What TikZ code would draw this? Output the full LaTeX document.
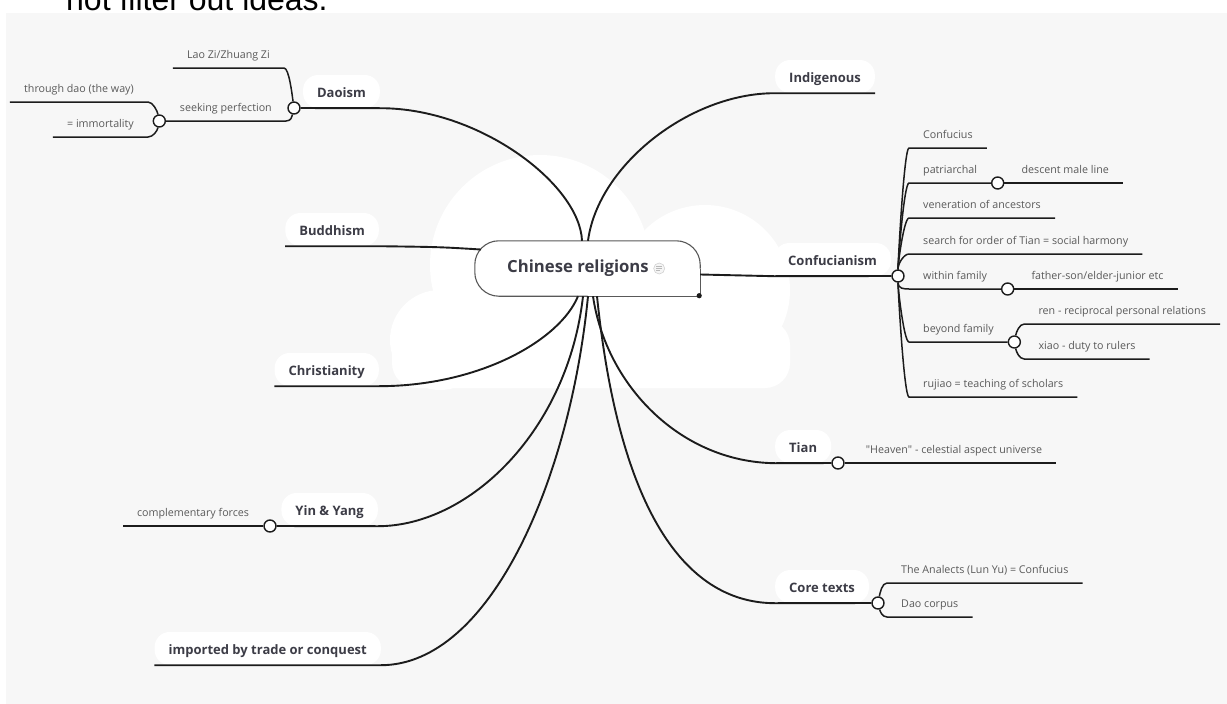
\documentclass[tikz,border=0pt]{standalone}
\usepackage{fontspec}
\setmainfont{Open Sans}
\newfontfamily\plainsans{Open Sans}
\newfontfamily\slidefont{Liberation Sans}
\usetikzlibrary{positioning,calc}

\definecolor{paper}{HTML}{F7F7F7}
\definecolor{ink}{HTML}{1C1C1C}
\definecolor{topicgray}{HTML}{3C3C46}
\definecolor{leafgray}{HTML}{5A5A5A}

\tikzset{
  root/.style={fill=white, rounded corners=24pt, minimum width=225pt, minimum height=55pt,
    text=topicgray, font=\fontsize{16.7}{19}\selectfont\bfseries},
  rootline/.style={draw=gray!70!black, line width=1.1pt},
  topic/.style={fill=white, rounded corners=15pt, inner xsep=14pt, inner ysep=11pt,
    text height=11pt, text depth=0pt, text=topicgray,
    font=\fontsize{13}{15}\selectfont\bfseries},
  leaf/.style={inner xsep=14pt, inner ysep=9pt, text height=7.5pt, text depth=0pt,
    text=leafgray, font=\fontsize{10.7}{12}\selectfont},
  branch/.style={draw=ink, line width=1.9pt},
  twig/.style={draw=ink, line width=1.5pt},
  knob/.style={circle, draw=ink, fill=white, line width=1.4pt, minimum size=12pt, inner sep=0pt},
}

\begin{document}
\begin{tikzpicture}[x=1pt,y=-1pt]
  \useasboundingbox (0,0) rectangle (1227,704);
  \clip (0,0) rectangle (1227,704);
  % slide text cut off at the top
  \node[anchor=base west, inner sep=0pt, font=\slidefont\fontsize{32}{36}\selectfont] (slide) at (66,10) {not filter out ideas.};
  % canvas and cloud
  \fill[paper] (6,13) rectangle (1227,704);
  \fill[white] (540,265) circle (110pt);
  \fill[white] (705,290) circle (85pt);
  \fill[white] (440,340) circle (50pt);
  \fill[white, rounded corners=25pt] (392,320) rectangle (790,388);

  % central topic, square lower right corner with the handle
  \node[root] (cr) at (587.5,268.5) {Chinese religions\kern19pt};
  \draw[rootline, rounded corners=24pt] (cr.south) -- (cr.south west) -- (cr.north west) -- (cr.north east) -- (cr.east);
  \draw[rootline] (cr.east) -- (cr.south east) -- (cr.south);
  \node[circle, draw=gray!35, fill=gray!8, line width=0.6pt, minimum size=11pt, inner sep=0pt] (note) at ([xshift=-41pt]cr.east) {};
  \draw[gray!55, line width=0.6pt] ([shift={(-3pt,2pt)}]note.center) -- +(6,0)
    ([shift={(-3pt,0pt)}]note.center) -- +(6,0)
    ([shift={(-3pt,-2pt)}]note.center) -- +(3.5,0);
  \fill[ink] ([shift={(-1pt,0.5pt)}]cr.south east) circle (2.6pt);

  % main topics
  \node[topic, anchor=base east] (daoism) at (380,97) {Daoism};
  \node[topic, anchor=base east] (buddhism) at (379,235) {Buddhism};
  \node[topic, anchor=base east] (christianity) at (379,375) {Christianity};
  \node[topic, anchor=base east] (yinyang) at (378,515) {Yin \& Yang};
  \node[topic, anchor=base east] (imported) at (381,654) {imported by trade or conquest};
  \node[topic, anchor=base west] (indigenous) at (775,82) {Indigenous};
  \node[topic, anchor=base west] (confucianism) at (774,265) {Confucianism};
  \node[topic, anchor=base west] (tian) at (775,452) {Tian};
  \node[topic, anchor=base west] (coretexts) at (775,592) {Core texts};

  % knobs
  \node[knob] (daok) at (294,108) {};
  \node[knob] (yink) at (270,526) {};
  \node[knob] (confk) at (898,276) {};
  \node[knob] (tiank) at (838,463) {};
  \node[knob] (corek) at (878,603) {};

  % branches from the centre
  \draw[branch] ([xshift=-5.5pt]cr.north) .. controls (580,185) and (480,108) .. (daoism.south east) -- (daok);
  \draw[branch] ([xshift=0.5pt]cr.north) .. controls (598,165) and (690,93) .. (indigenous.south west) -- (indigenous.south east);
  \draw[branch] ([shift={(6pt,19pt)}]cr.west) .. controls (440,247) .. (buddhism.south east) -- (buddhism.south west);
  \draw[branch] ([yshift=-6pt]cr.east) -- (confucianism.south west) -- (confk);
  \draw[branch] ([xshift=-9.5pt]cr.south) .. controls (560,340) and (480,386) .. (christianity.south east) -- (christianity.south west);
  \draw[branch] ([xshift=-4.5pt]cr.south) .. controls (568,430) and (470,526) .. (yinyang.south east) -- (yink);
  \draw[branch] ([xshift=0.5pt]cr.south) .. controls (570,480) and (490,665) .. (imported.south east) -- (imported.south west);
  \draw[branch] ([xshift=5.5pt]cr.south) .. controls (606,385) and (680,462) .. (tian.south west) -- (tiank);
  \draw[branch] ([xshift=9.5pt]cr.south) .. controls (620,520) and (690,603) .. (coretexts.south west) -- (corek);

  % Daoism
  \node[leaf, anchor=south east] (laozi) at (284,68) {Lao Zi/Zhuang Zi};
  \node[leaf, anchor=south east] (seeking) at (286,121) {seeking perfection};
  \node[knob] (seekk) at ([xshift=-6.5pt]seeking.south west) {};
  \node[leaf, anchor=south east] (throughdao) at (148,102) {through dao (the way)};
  \node[leaf, anchor=south east] (immortality) at (148,137) {= immortality};
  \draw[twig] (daok) .. controls +(-2,-14) and +(5,0) .. (laozi.south east) -- (laozi.south west);
  \draw[twig] (daok) .. controls +(-2,9) and +(5,0) .. (seeking.south east) -- (seekk);
  \draw[twig] (seekk) .. controls +(-2,-10) and +(5,0) .. (throughdao.south east) -- (throughdao.south west);
  \draw[twig] (seekk) .. controls +(-2,10) and +(5,0) .. (immortality.south east) -- (immortality.south west);

  % Yin & Yang
  \node[leaf, anchor=south east] (complementary) at (yink.west) {complementary forces};
  \draw[twig] (yink) -- (complementary.south west);

  % Confucianism
  \node[leaf, anchor=south west] (confucius) at (909,148) {Confucius};
  \node[leaf, anchor=south west] (patriarchal) at (909,183) {patriarchal};
  \node[leaf, anchor=south west] (veneration) at (909,218) {veneration of ancestors};
  \node[leaf, anchor=south west] (order) at (909,254) {search for order of Tian = social harmony};
  \node[leaf, anchor=south west] (withinfam) at (909,289) {within family};
  \node[leaf, anchor=south west] (beyondfam) at (909,342) {beyond family};
  \node[leaf, anchor=south west] (rujiao) at (909,397) {rujiao = teaching of scholars};
  \node[knob] (patk) at ([xshift=6.5pt]patriarchal.south east) {};
  \node[knob] (withink) at ([xshift=6.5pt]withinfam.south east) {};
  \node[knob] (beyondk) at ([xshift=6.5pt]beyondfam.south east) {};
  \node[leaf, anchor=south west] (descent) at ([xshift=3pt]patk.east) {descent male line};
  \node[leaf, anchor=south west] (fatherson) at ([xshift=3pt]withink.east) {father-son/elder-junior etc};
  \node[leaf, anchor=south west] (ren) at ([shift={(10pt,18pt)}]beyondk.center) {ren - reciprocal personal relations};
  \node[leaf, anchor=south west] (xiao) at ([shift={(10pt,-17pt)}]beyondk.center) {xiao - duty to rulers};
  \draw[twig] (confk.north) .. controls +(0,-6) and +(-5,0) .. (confucius.south west) -- (confucius.south east);
  \draw[twig] (confk.north) .. controls +(0,-6) and +(-5,0) .. (patriarchal.south west) -- (patk);
  \draw[twig] (confk.north) .. controls +(0,-6) and +(-5,0) .. (veneration.south west) -- (veneration.south east);
  \draw[twig] (confk.north) .. controls +(0,-6) and +(-5,0) .. (order.south west) -- (order.south east);
  \draw[twig] (confk.south) .. controls +(0,6) and +(-5,0) .. (withinfam.south west) -- (withink);
  \draw[twig] (confk.south) .. controls +(0,6) and +(-5,0) .. (beyondfam.south west) -- (beyondk);
  \draw[twig] (confk.south) .. controls +(0,6) and +(-5,0) .. (rujiao.south west) -- (rujiao.south east);
  \draw[twig] (patk) -- (descent.south east);
  \draw[twig] (withink) -- (fatherson.south east);
  \draw[twig] (beyondk) .. controls +(2,-10) and +(-5,0) .. (ren.south west) -- (ren.south east);
  \draw[twig] (beyondk) .. controls +(2,10) and +(-5,0) .. (xiao.south west) -- (xiao.south east);

  % Tian
  \node[leaf, anchor=south west] (heaven) at ([xshift=7pt]tiank.east) {{\plainsans"}Heaven{\plainsans"} - celestial aspect universe};
  \draw[twig] (tiank) -- (heaven.south east);

  % Core texts
  \node[leaf, anchor=south west] (analects) at ([shift={(9pt,20pt)}]corek.center) {The Analects (Lun Yu) = Confucius};
  \node[leaf, anchor=south west] (daocorpus) at ([shift={(9pt,-14pt)}]corek.center) {Dao corpus};
  \draw[twig] (corek) .. controls +(2,-10) and +(-5,0) .. (analects.south west) -- (analects.south east);
  \draw[twig] (corek) .. controls +(2,8) and +(-5,0) .. (daocorpus.south west) -- (daocorpus.south east);
\end{tikzpicture}
\end{document}
